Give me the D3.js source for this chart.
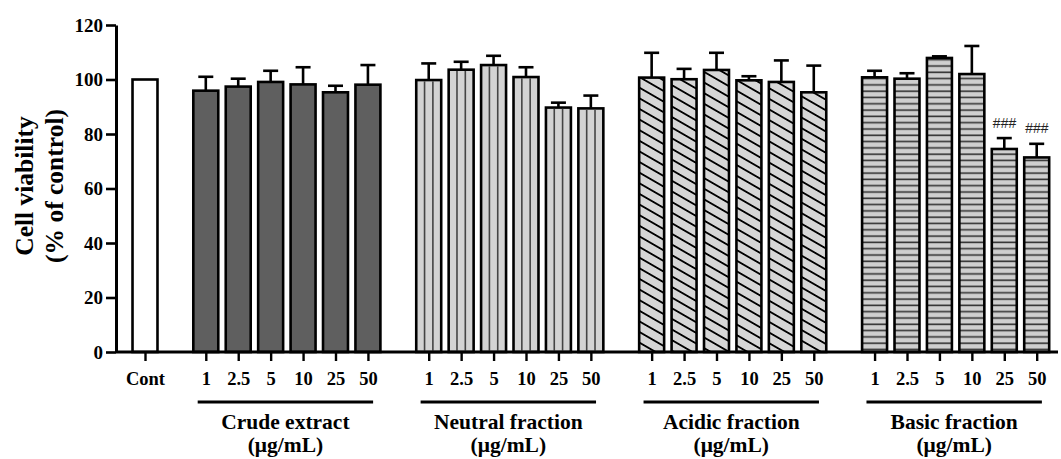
<!DOCTYPE html>
<html lang="en">
<head>
    <meta charset="UTF-8"/>
    <title>Cell viability</title>
    <script src="https://d3js.org/d3.v7.min.js"></script>
    <style>
        body { margin: 0; background: #fff; }
        svg text { font-family: "Liberation Serif", "Times New Roman", serif; font-weight: bold; fill: #000; }
    </style>
</head>
<body>
<script>
    var w = 1061;
    var h = 459;

    // data
    var contLabel = "Cont";
    var contValue = 100;
    var doses = ["1", "2.5", "5", "10", "25", "50"];
    var groupNames = ["Crude extract", "Neutral fraction", "Acidic fraction", "Basic fraction"];
    var unitLabel = "(\u03bcg/mL)";

    var crudeMeans = [95.9, 97.4, 99.1, 98.2, 95.3, 98.1];
    var crudeErrs = [5.1, 2.9, 4.1, 6.3, 2.4, 7.2];
    var neutralMeans = [99.8, 103.6, 105.3, 100.9, 89.7, 89.4];
    var neutralErrs = [6.1, 2.9, 3.4, 3.6, 1.8, 4.7];
    var acidicMeans = [100.7, 100.1, 103.5, 99.7, 99.1, 95.3];
    var acidicErrs = [9.1, 3.8, 6.3, 1.5, 7.9, 9.8];
    var basicMeans = [100.8, 100.3, 107.9, 102.0, 74.5, 71.4];
    var basicErrs = [2.4, 2.0, 0.6, 10.3, 4.0, 5.0];
    var basicSig = ["", "", "", "", "###", "###"];

    var yTicks = [0, 20, 40, 60, 80, 100, 120];

    var groupFills = ["crude", "neutral", "acidic", "basic"];
    var groupMeans = [crudeMeans, neutralMeans, acidicMeans, basicMeans];
    var groupErrs = [crudeErrs, neutralErrs, acidicErrs, basicErrs];
    var groupSig = [null, null, null, basicSig];

    // slot position of each bar (Cont = 0, groups separated by a wider gap)
    var groupGap = 1.875;
    function slot(g, i) {
        return groupGap + g * (doses.length - 1 + groupGap) + i;
    }

    var bars = [{ label: contLabel, pos: 0, value: contValue, err: 0, kind: "cont", sig: "" }];
    groupNames.forEach(function(name, g) {
        doses.forEach(function(dose, i) {
            bars.push({
                label: dose,
                pos: slot(g, i),
                value: groupMeans[g][i],
                err: groupErrs[g][i],
                kind: groupFills[g],
                sig: groupSig[g] ? groupSig[g][i] : ""
            });
        });
    });

    var lastPos = slot(groupNames.length - 1, doses.length - 1);

    var xScale = d3.scaleLinear()
        .domain([0, lastPos])
        .range([145, 1036.7]);

    var yScale = d3.scaleLinear()
        .domain([0, 120])
        .range([352, 25]);

    var unit = xScale(1) - xScale(0);
    var barW = unit * 0.77;

    var svg = d3.select("body")
        .append("svg")
        .attr("width", w)
        .attr("height", h);

    // fill patterns
    var defs = svg.append("defs");

    var diag = defs.append("pattern")
        .attr("id", "pat-acidic")
        .attr("patternUnits", "userSpaceOnUse")
        .attr("width", 12)
        .attr("height", 9.2)
        .attr("patternTransform", "rotate(30)");
    diag.append("rect").attr("width", 12).attr("height", 9.2).attr("fill", "#d6d6d6");
    diag.append("line")
        .attr("x1", 0).attr("x2", 12)
        .attr("y1", 4.6).attr("y2", 4.6)
        .attr("stroke", "#000")
        .attr("stroke-width", 1.8);

    var horiz = defs.append("pattern")
        .attr("id", "pat-basic")
        .attr("patternUnits", "userSpaceOnUse")
        .attr("width", 10)
        .attr("height", 6.3);
    horiz.append("rect").attr("width", 10).attr("height", 6.3).attr("fill", "#cfcfcf");
    horiz.append("line")
        .attr("x1", 0).attr("x2", 10)
        .attr("y1", 3).attr("y2", 3)
        .attr("stroke", "#333")
        .attr("stroke-width", 1.6);

    var fills = {
        cont: "#ffffff",
        crude: "#5f5f5f",
        neutral: "#d3d3d3",
        acidic: "url(#pat-acidic)",
        basic: "url(#pat-basic)"
    };

    // bars
    var barG = svg.append("g");

    barG.selectAll("rect.bar")
        .data(bars)
        .enter()
        .append("rect")
        .attr("class", "bar")
        .attr("x", function(d) { return xScale(d.pos) - barW / 2; })
        .attr("y", function(d) { return yScale(d.value); })
        .attr("width", barW)
        .attr("height", function(d) { return yScale(0) - yScale(d.value); })
        .attr("fill", function(d) { return fills[d.kind]; })
        .attr("stroke", "#000")
        .attr("stroke-width", 2.6);

    // vertical stripes for neutral fraction
    var neutralBars = bars.filter(function(d) { return d.kind === "neutral"; });
    [1 / 3, 2 / 3].forEach(function(f) {
        barG.selectAll(null)
            .data(neutralBars)
            .enter()
            .append("line")
            .attr("x1", function(d) { return xScale(d.pos) - barW / 2 + barW * f; })
            .attr("x2", function(d) { return xScale(d.pos) - barW / 2 + barW * f; })
            .attr("y1", function(d) { return yScale(d.value) + 1.3; })
            .attr("y2", yScale(0) - 1.3)
            .attr("stroke", "#444")
            .attr("stroke-width", 1.6);
    });

    // error bars (upper only)
    var errBars = bars.filter(function(d) { return d.err > 0; });
    barG.selectAll("line.err")
        .data(errBars)
        .enter()
        .append("line")
        .attr("class", "err")
        .attr("x1", function(d) { return xScale(d.pos); })
        .attr("x2", function(d) { return xScale(d.pos); })
        .attr("y1", function(d) { return yScale(d.value); })
        .attr("y2", function(d) { return yScale(d.value + d.err); })
        .attr("stroke", "#000")
        .attr("stroke-width", 2.6);

    barG.selectAll("line.cap")
        .data(errBars)
        .enter()
        .append("line")
        .attr("class", "cap")
        .attr("x1", function(d) { return xScale(d.pos) - 7.5; })
        .attr("x2", function(d) { return xScale(d.pos) + 7.5; })
        .attr("y1", function(d) { return yScale(d.value + d.err); })
        .attr("y2", function(d) { return yScale(d.value + d.err); })
        .attr("stroke", "#000")
        .attr("stroke-width", 2.6);

    // significance marks
    barG.selectAll("text.sig")
        .data(bars.filter(function(d) { return d.sig; }))
        .enter()
        .append("text")
        .attr("class", "sig")
        .attr("x", function(d) { return xScale(d.pos); })
        .attr("y", function(d) { return yScale(d.value + d.err) - 10.5; })
        .attr("text-anchor", "middle")
        .style("font-family", "'Liberation Sans', Arial, sans-serif")
        .style("font-weight", "normal")
        .style("font-style", "italic")
        .style("font-size", "14px")
        .style("fill", "#222")
        .text(function(d) { return d.sig; });

    // y axis
    var yAxis = svg.append("g")
        .attr("transform", "translate(116,0)")
        .call(d3.axisLeft(yScale).tickValues(yTicks).tickSize(10).tickPadding(3).tickSizeOuter(0));
    yAxis.select(".domain").attr("stroke-width", 3);
    yAxis.selectAll(".tick line").attr("stroke-width", 2.6);
    yAxis.selectAll(".tick text").style("font-size", "19px");

    // x axis
    var xAxis = svg.append("g")
        .attr("transform", "translate(0," + yScale(0) + ")")
        .call(d3.axisBottom(xScale)
            .tickValues(bars.map(function(d) { return d.pos; }))
            .tickFormat(function(d, i) { return bars[i].label; })
            .tickSize(9)
            .tickPadding(11));
    xAxis.select(".domain").remove();
    xAxis.selectAll(".tick line").attr("stroke-width", 2.4);
    xAxis.selectAll(".tick text").style("font-size", "18.5px");

    svg.append("line")
        .attr("x1", 116)
        .attr("x2", 1058)
        .attr("y1", yScale(0))
        .attr("y2", yScale(0))
        .attr("stroke", "#000")
        .attr("stroke-width", 3);

    // group brackets and labels
    var groupG = svg.selectAll("g.grp")
        .data(groupNames)
        .enter()
        .append("g")
        .attr("class", "grp");

    groupG.append("line")
        .attr("x1", function(d, g) { return xScale(slot(g, 0) - 0.25); })
        .attr("x2", function(d, g) { return xScale(slot(g, doses.length - 1) + 0.16); })
        .attr("y1", 402)
        .attr("y2", 402)
        .attr("stroke", "#000")
        .attr("stroke-width", 3);

    function groupMid(g) {
        return (xScale(slot(g, 0) - 0.25) + xScale(slot(g, doses.length - 1) + 0.16)) / 2;
    }

    groupG.append("text")
        .attr("x", function(d, g) { return groupMid(g); })
        .attr("y", 429)
        .attr("text-anchor", "middle")
        .style("font-size", "21.5px")
        .text(function(d) { return d; });

    groupG.append("text")
        .attr("x", function(d, g) { return groupMid(g); })
        .attr("y", 452)
        .attr("text-anchor", "middle")
        .style("font-size", "21.5px")
        .text(unitLabel);

    // y axis title
    var title = svg.append("text")
        .attr("transform", "translate(0,186) rotate(-90)")
        .attr("text-anchor", "middle")
        .style("font-size", "25.5px");
    title.append("tspan").attr("x", 0).attr("y", 33).text("Cell viability");
    title.append("tspan").attr("x", 0).attr("y", 63).text("(% of control)");
</script>
</body>
</html>
